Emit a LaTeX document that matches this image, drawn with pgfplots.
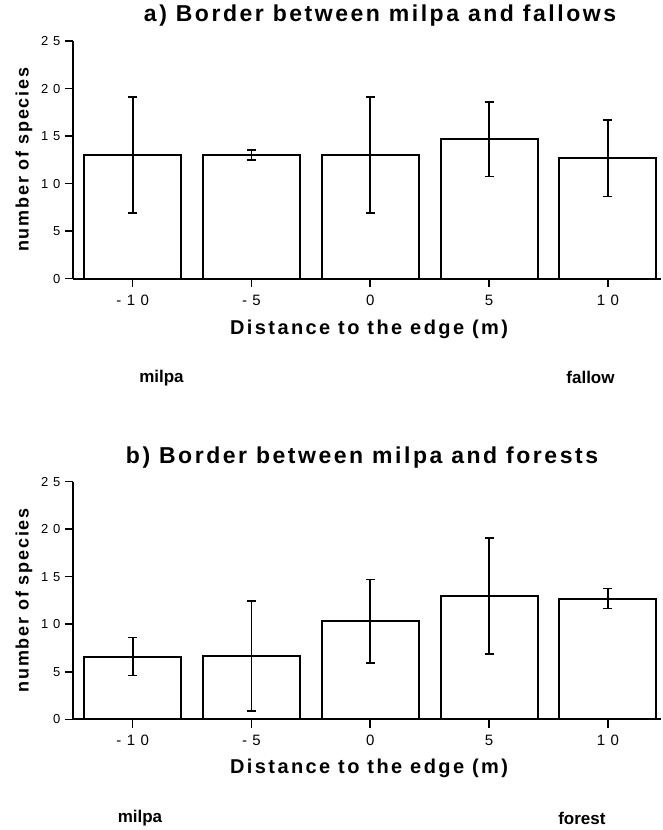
\documentclass[border=0pt]{standalone}
\usepackage{fontspec}
\setmainfont{Liberation Sans}
\newfontfamily\titlefont[LetterSpace=11]{Liberation Sans}
\newfontfamily\labfont[LetterSpace=12]{Liberation Sans}
\newfontfamily\ylabfont[LetterSpace=10]{Liberation Sans}
\newfontfamily\tickfont[LetterSpace=8]{Liberation Sans}
\usepackage{pgfplots}
\pgfplotsset{compat=1.18}

% common look of both panels
\pgfplotsset{
  edgeplot/.style={
    width=588pt, height=237.7pt, scale only axis,
    anchor=south west, clip=false,
    xmin=-0.5, xmax=4.45, ymin=0, ymax=25,
    axis lines=left,
    axis line style={line width=2pt, -},
    xtick={0,1,2,3,4}, xticklabels={- 1 0,- 5,0,5,1 0},
    ytick={0,5,10,15,20,25}, yticklabels={0,5,1 0,1 5,2 0,2 5},
    tick align=outside,
    major tick length=8.5pt,
    tick style={line width=1.6pt, black},
    x tick label style={font=\tickfont\fontsize{15}{15}\selectfont, yshift=-4pt},
    y tick label style={font=\tickfont\fontsize{13}{13}\selectfont, xshift=-1pt},
    ylabel={number of species},
    ylabel style={font=\ylabfont\bfseries\fontsize{18}{18}\selectfont,
      at={(axis description cs:-0.0838,0.5)}, anchor=center},
    xlabel={Distance to the edge (m)},
    xlabel style={font=\labfont\bfseries\fontsize{20}{20}\selectfont, anchor=center},
    every axis title shift=0pt,
    title style={font=\titlefont\bfseries\fontsize{23}{23}\selectfont, anchor=center},
  },
  edgebars/.style={
    ybar, bar width=0.816, fill=white, draw=black, line width=2pt,
    error bars/.cd, y dir=both, y explicit,
    error bar style={line width=1.8pt, black},
    error mark options={rotate=90, mark size=4.5pt, line width=1.8pt, black},
  },
}

\begin{document}
\begin{tikzpicture}
\useasboundingbox (0pt,0pt) rectangle (662pt,830pt);

% a) milpa / fallow
\begin{axis}[edgeplot, at={(73.3pt,551.3pt)},
    title={a) Border between milpa and fallows},
    title style={at={(axis description cs:0.5216,1.105)}},
    xlabel style={at={(axis description cs:0.503,-0.2146)}}]
  \addplot[edgebars] coordinates {
    (0,13.0) +- (0,6.1)
    (1,13.0) +- (0,0.5)
    (2,13.0) +- (0,6.1)
    (3,14.65) +- (0,3.9)
    (4,12.65) +- (0,4.0)
  };
  \node[font=\bfseries\fontsize{17}{17}\selectfont] at (axis description cs:0.150,-0.4165) {milpa};
  \node[font=\bfseries\fontsize{17}{17}\selectfont] at (axis description cs:0.8796,-0.4165) {fallow};
\end{axis}

% b) milpa / forest
\begin{axis}[edgeplot, at={(73.3pt,110.7pt)},
    title={b) Border between milpa and forests},
    title style={at={(axis description cs:0.491,1.1)}},
    xlabel style={at={(axis description cs:0.503,-0.208)}}]
  \addplot[edgebars] coordinates {
    (0,6.6) +- (0,2.0)
    (1,6.65) +- (0,5.8)
    (2,10.3) +- (0,4.4)
    (3,13.0) +- (0,6.1)
    (4,12.7) +- (0,1.05)
  };
  \node[font=\bfseries\fontsize{17}{17}\selectfont] at (axis description cs:0.1134,-0.417) {milpa};
  \node[font=\bfseries\fontsize{17}{17}\selectfont] at (axis description cs:0.865,-0.417) {forest};
\end{axis}
\end{tikzpicture}
\end{document}
